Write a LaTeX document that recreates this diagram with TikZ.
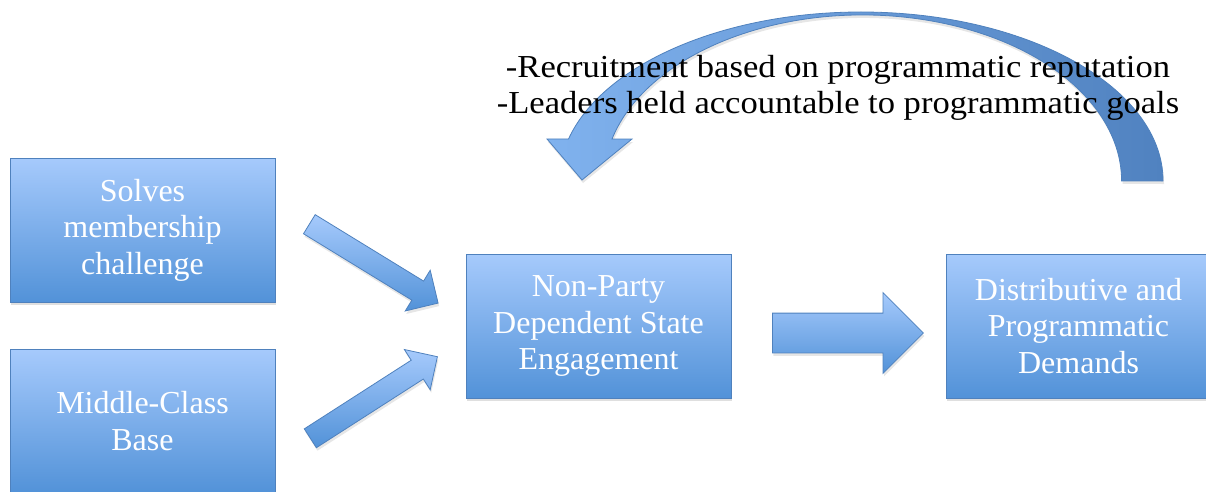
\documentclass[tikz,border=0pt]{standalone}
\usepackage{fontspec}
\setmainfont{Liberation Serif}
\newfontfamily\notefont[FakeStretch=1.08]{Liberation Serif}
\usetikzlibrary{shapes.arrows,shadows}
\definecolor{boxtop}{RGB}{166,202,252}
\definecolor{boxbot}{RGB}{82,146,216}
\definecolor{boxline}{RGB}{79,129,189}
\definecolor{bandleft}{RGB}{128,178,238}
\definecolor{bandright}{RGB}{80,130,192}

\begin{document}
\begin{tikzpicture}[x=1pt, y=1pt,
  stage/.style={draw=boxline, line width=0.8pt, top color=boxtop, bottom color=boxbot,
    text=white, font=\fontsize{32}{36.5}\selectfont, align=center,
    minimum width=265pt, minimum height=144pt, inner sep=0pt,
    drop shadow={opacity=0.25, shadow xshift=1pt, shadow yshift=-3pt}},
  fat/.style={single arrow, draw=boxline, line width=0.8pt, top color=boxtop, bottom color=boxbot,
    anchor=tail, inner xsep=0pt, single arrow head indent=0pt, minimum height=151pt,
    drop shadow={opacity=0.2, shadow xshift=1pt, shadow yshift=-3pt}},
  band/.style={draw=boxline, line width=0.8pt, left color=bandleft, right color=bandright,
    drop shadow={opacity=0.2, shadow xshift=1pt, shadow yshift=-3pt}}]
\clip (0,0) rectangle (1206,491);
% Left: the two sources
\node[stage] (sol) at (142.5,261) {Solves\\membership\\challenge};
\node[stage] (mid) at (142.5,70) {Middle-Class\\Base};
% Center
\node[stage] (npd) at (598.5,165) {Non-Party\\Dependent State\\Engagement};
% Right
\node[stage] (dem) at (1078.5,165) {Distributive and\\Programmatic\\Demands};
% Block arrows
\node[fat, inner ysep=10.8pt, single arrow head extend=12.7pt, rotate=-31.5] (solarr) at (309,267) {};
\node[fat, inner ysep=10.8pt, single arrow head extend=12.7pt, rotate=32.7] (midarr) at (310,52.5) {};
\node[fat, inner ysep=19.5pt, single arrow head extend=20.5pt] (npdarr) at (772,158) {};
% Feedback arrow over the top
\draw[band] (1163,310) arc[start angle=0, end angle=165.6, x radius=302, y radius=169]
  -- (547,352) -- (582,311) -- (632,352) -- (612,352)
  arc[start angle=165.35, end angle=0, x radius=259, y radius=166] -- cycle;
\node[font=\notefont\fontsize{32}{36}\selectfont, align=center] (fb) at (838,403)
  {-Recruitment based on programmatic reputation\\-Leaders held accountable to programmatic goals};
\end{tikzpicture}
\end{document}
